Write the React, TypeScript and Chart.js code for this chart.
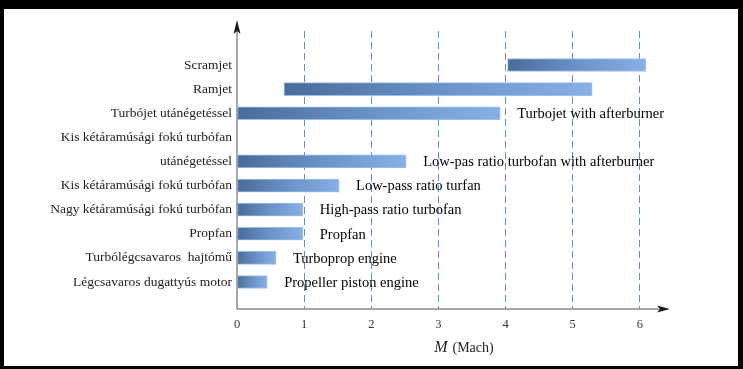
import React, { useEffect, useRef } from "react";
import { Chart, registerables } from "chart.js";

Chart.register(...registerables);

const categories = [
  "Scramjet",
  "Ramjet",
  "Turbójet utánégetéssel",
  "Kis kétáramúsági fokú turbófan",
  "utánégetéssel",
  "Kis kétáramúsági fokú turbófan",
  "Nagy kétáramúsági fokú turbófan",
  "Propfan",
  "Turbólégcsavaros  hajtómű",
  "Légcsavaros dugattyús motor",
];
const machStart: (number | null)[] = [4.03, 0.7, 0, null, 0, 0, 0, 0, 0, 0];
const machEnd: (number | null)[] = [6.09, 5.29, 3.92, null, 2.52, 1.52, 0.98, 0.98, 0.58, 0.45];
const notes: (string | null)[] = [
  null,
  null,
  "Turbojet with afterburner",
  null,
  "Low-pas ratio turbofan with afterburner",
  "Low-pass ratio turfan",
  "High-pass ratio turbofan",
  "Propfan",
  "Turboprop engine",
  "Propeller piston engine",
];
const xTicks = [0, 1, 2, 3, 4, 5, 6];

const SERIF = '"Liberation Serif", "DejaVu Serif", serif';
const Y_MIN = -1.41;
const Y_MAX = 10.12;
const X_MIN = 0;
const X_MAX = 6.45;

export default function App() {
  const ref = useRef<HTMLCanvasElement | null>(null);

  useEffect(() => {
    if (!ref.current) return;
    const rows = categories.map((_, i) => i).filter((i) => machEnd[i] != null);
    const data = rows.map((i) => ({ x: [machStart[i] as number, machEnd[i] as number], y: i }));

    const notesPlugin = {
      id: "notes",
      afterDatasetsDraw(chart: any) {
        const ctx = chart.ctx;
        const meta = chart.getDatasetMeta(0);
        ctx.save();
        ctx.font = `14.5px ${SERIF}`;
        ctx.fillStyle = "#000";
        ctx.textAlign = "left";
        ctx.textBaseline = "middle";
        meta.data.forEach((bar: any, j: number) => {
          const note = notes[rows[j]];
          if (note) ctx.fillText(note, bar.x + 17, bar.y + 1);
        });
        ctx.restore();
      },
    };

    const axesPlugin = {
      id: "axes",
      afterDraw(chart: any) {
        const ctx = chart.ctx;
        const { left, right, bottom } = chart.chartArea;
        ctx.save();
        ctx.strokeStyle = "#8c8c8c";
        ctx.lineWidth = 1.5;
        ctx.beginPath();
        ctx.moveTo(left, bottom);
        ctx.lineTo(left, 22);
        ctx.moveTo(left, bottom);
        ctx.lineTo(right - 10, bottom);
        ctx.stroke();
        ctx.fillStyle = "#1a1a1a";
        ctx.beginPath();
        ctx.moveTo(left, 11);
        ctx.lineTo(left - 3.5, 25);
        ctx.lineTo(left, 22);
        ctx.lineTo(left + 3.5, 25);
        ctx.closePath();
        ctx.fill();
        ctx.beginPath();
        ctx.moveTo(right, bottom);
        ctx.lineTo(right - 13, bottom - 3.5);
        ctx.lineTo(right - 10, bottom);
        ctx.lineTo(right - 13, bottom + 3.5);
        ctx.closePath();
        ctx.fill();
        // axis title
        const mid = (left + right) / 2;
        ctx.fillStyle = "#222";
        ctx.textBaseline = "middle";
        ctx.font = `italic 16px ${SERIF}`;
        ctx.textAlign = "right";
        ctx.fillText("M", mid - 6, 339);
        ctx.font = `14px ${SERIF}`;
        ctx.textAlign = "left";
        ctx.fillText("(Mach)", mid - 1, 339);
        ctx.restore();
      },
    };

    const fallback = "#6f95c8";
    const chart = new Chart(ref.current, {
      type: "bar",
      data: {
        datasets: [
          {
            data: data as any,
            barThickness: 13,
            borderWidth: 1,
            borderSkipped: false,
            borderColor: "rgba(150,188,235,0.95)",
            backgroundColor: (ctx: any) => {
              if (ctx.type !== "data" || !ctx.raw || !Array.isArray(ctx.raw.x)) return fallback;
              const xs = ctx.chart.scales && ctx.chart.scales.x;
              if (!xs) return fallback;
              const x0 = xs.getPixelForValue(ctx.raw.x[0]);
              const x1 = xs.getPixelForValue(ctx.raw.x[1]);
              if (!isFinite(x0) || !isFinite(x1) || x0 === x1) return fallback;
              const g = ctx.chart.ctx.createLinearGradient(x0, 0, x1, 0);
              g.addColorStop(0, "#4b6b98");
              g.addColorStop(0.5, "#6a92c8");
              g.addColorStop(1, "#88b0e6");
              return g;
            },
          },
        ],
      },
      options: {
        indexAxis: "y",
        responsive: false,
        animation: false,
        layout: { padding: { top: 22, right: 68, left: 0, bottom: 0 } },
        plugins: {
          legend: { display: false },
          tooltip: { enabled: false },
        },
        scales: {
          y: {
            type: "linear",
            reverse: true,
            offset: false,
            bounds: "data",
            min: Y_MIN,
            max: Y_MAX,
            afterBuildTicks: (scale: any) => {
              scale.ticks = categories.map((_, i) => ({ value: i }));
              scale.min = Y_MIN;
              scale.max = Y_MAX;
            },
            afterFit: (scale: any) => {
              scale.width = 233;
            },
            grid: { display: false, drawTicks: false },
            border: { display: false },
            ticks: {
              padding: 5,
              color: "#222",
              font: { family: SERIF, size: 13.5 },
              callback: (v: any) => categories[v as number] ?? "",
            },
          },
          x: {
            type: "linear",
            offset: false,
            bounds: "data",
            min: X_MIN,
            max: X_MAX,
            z: 1,
            afterBuildTicks: (scale: any) => {
              scale.ticks = xTicks.map((v) => ({ value: v }));
              scale.min = X_MIN;
              scale.max = X_MAX;
            },
            afterFit: (scale: any) => {
              scale.height = 57;
            },
            grid: {
              drawTicks: false,
              lineWidth: 1,
              color: (ctx: any) =>
                ctx.tick && ctx.tick.value === 0 ? "rgba(0,0,0,0)" : "rgba(79,131,196,0.9)",
            },
            border: { display: false, dash: [7, 4] },
            ticks: {
              padding: 8,
              color: "#333",
              font: { family: SERIF, size: 12.5 },
            },
          },
        },
      } as any,
      plugins: [notesPlugin, axesPlugin],
    });
    return () => chart.destroy();
  }, []);

  return (
    <div style={{ position: "fixed", inset: 0, background: "#000" }}>
      <div
        style={{
          position: "absolute",
          left: 4,
          top: 9,
          width: 734,
          height: 357,
          background: "#fff",
        }}
      >
        <canvas ref={ref} width={734} height={357} style={{ display: "block", width: 734, height: 357 }} />
      </div>
    </div>
  );
}
